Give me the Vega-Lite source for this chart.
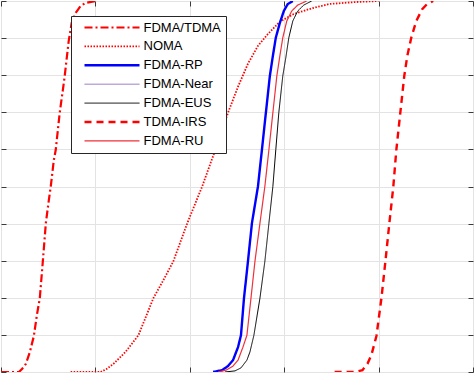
{
  "$schema": "https://vega.github.io/schema/vega-lite/v6.json",
  "width": 474,
  "height": 373,
  "padding": 0,
  "autosize": {"type": "fit", "contains": "padding"},
  "background": "white",
  "config": {
    "view": {"stroke": null},
    "axis": {"labels": false, "domain": false, "title": null, "grid": true, "gridColor": "#e3e3e3", "gridWidth": 1, "ticks": true, "tickColor": "#3a3a3a", "tickSize": -5, "tickWidth": 1},
    "legend": {
      "orient": "none", "legendX": 70, "legendY": 15,
      "strokeColor": "#262626", "fillColor": "white", "strokeWidth": 1,
      "padding": 5, "symbolType": "M-10,0H10", "symbolSize": 30.25,
      "labelFont": "Liberation Sans", "labelFontSize": 13, "labelColor": "#000000",
      "symbolOffset": 29.5, "labelOffset": 25, "rowPadding": 4.9, "title": null
    }
  },
  "data": {"values": [
    {"s":"FDMA-Near","x":2.247,"y":0},{"s":"FDMA-Near","x":2.342,"y":0.005},{"s":"FDMA-Near","x":2.405,"y":0.016},{"s":"FDMA-Near","x":2.458,"y":0.032},{"s":"FDMA-Near","x":2.511,"y":0.067},{"s":"FDMA-Near","x":2.542,"y":0.099},{"s":"FDMA-Near","x":2.574,"y":0.199},{"s":"FDMA-Near","x":2.616,"y":0.298},{"s":"FDMA-Near","x":2.658,"y":0.401},{"s":"FDMA-Near","x":2.722,"y":0.5},{"s":"FDMA-Near","x":2.764,"y":0.599},{"s":"FDMA-Near","x":2.806,"y":0.699},{"s":"FDMA-Near","x":2.848,"y":0.798},{"s":"FDMA-Near","x":2.88,"y":0.852},{"s":"FDMA-Near","x":2.911,"y":0.901},{"s":"FDMA-Near","x":2.954,"y":0.941},{"s":"FDMA-Near","x":2.996,"y":0.973},{"s":"FDMA-Near","x":3.038,"y":0.992},{"s":"FDMA-Near","x":3.091,"y":1},

    {"s":"FDMA/TDMA","x":0,"y":0},{"s":"FDMA/TDMA","x":0.19,"y":0},{"s":"FDMA/TDMA","x":0.222,"y":0.008},{"s":"FDMA/TDMA","x":0.264,"y":0.022},{"s":"FDMA/TDMA","x":0.306,"y":0.054},{"s":"FDMA/TDMA","x":0.348,"y":0.097},{"s":"FDMA/TDMA","x":0.38,"y":0.153},{"s":"FDMA/TDMA","x":0.411,"y":0.199},{"s":"FDMA/TDMA","x":0.443,"y":0.298},{"s":"FDMA/TDMA","x":0.475,"y":0.401},{"s":"FDMA/TDMA","x":0.506,"y":0.462},{"s":"FDMA/TDMA","x":0.527,"y":0.5},{"s":"FDMA/TDMA","x":0.559,"y":0.57},{"s":"FDMA/TDMA","x":0.58,"y":0.599},{"s":"FDMA/TDMA","x":0.622,"y":0.699},{"s":"FDMA/TDMA","x":0.654,"y":0.758},{"s":"FDMA/TDMA","x":0.675,"y":0.798},{"s":"FDMA/TDMA","x":0.717,"y":0.892},{"s":"FDMA/TDMA","x":0.749,"y":0.941},{"s":"FDMA/TDMA","x":0.791,"y":0.968},{"s":"FDMA/TDMA","x":0.844,"y":0.987},{"s":"FDMA/TDMA","x":0.897,"y":0.995},{"s":"FDMA/TDMA","x":1.0,"y":1},

    {"s":"NOMA","x":0.738,"y":0},{"s":"NOMA","x":1.055,"y":0},{"s":"NOMA","x":1.118,"y":0.008},{"s":"NOMA","x":1.192,"y":0.022},{"s":"NOMA","x":1.319,"y":0.054},{"s":"NOMA","x":1.456,"y":0.099},{"s":"NOMA","x":1.614,"y":0.199},{"s":"NOMA","x":1.719,"y":0.247},{"s":"NOMA","x":1.825,"y":0.298},{"s":"NOMA","x":1.973,"y":0.401},{"s":"NOMA","x":2.131,"y":0.5},{"s":"NOMA","x":2.268,"y":0.597},{"s":"NOMA","x":2.405,"y":0.699},{"s":"NOMA","x":2.511,"y":0.769},{"s":"NOMA","x":2.616,"y":0.831},{"s":"NOMA","x":2.722,"y":0.879},{"s":"NOMA","x":2.827,"y":0.911},{"s":"NOMA","x":2.954,"y":0.944},{"s":"NOMA","x":3.101,"y":0.965},{"s":"NOMA","x":3.302,"y":0.981},{"s":"NOMA","x":3.481,"y":0.992},{"s":"NOMA","x":3.745,"y":0.997},{"s":"NOMA","x":3.998,"y":1},

    {"s":"FDMA-RP","x":2.247,"y":0},{"s":"FDMA-RP","x":2.342,"y":0.005},{"s":"FDMA-RP","x":2.405,"y":0.016},{"s":"FDMA-RP","x":2.458,"y":0.032},{"s":"FDMA-RP","x":2.511,"y":0.067},{"s":"FDMA-RP","x":2.542,"y":0.099},{"s":"FDMA-RP","x":2.574,"y":0.199},{"s":"FDMA-RP","x":2.616,"y":0.298},{"s":"FDMA-RP","x":2.658,"y":0.401},{"s":"FDMA-RP","x":2.722,"y":0.5},{"s":"FDMA-RP","x":2.764,"y":0.599},{"s":"FDMA-RP","x":2.806,"y":0.699},{"s":"FDMA-RP","x":2.848,"y":0.798},{"s":"FDMA-RP","x":2.88,"y":0.852},{"s":"FDMA-RP","x":2.911,"y":0.901},{"s":"FDMA-RP","x":2.954,"y":0.941},{"s":"FDMA-RP","x":2.996,"y":0.973},{"s":"FDMA-RP","x":3.038,"y":0.992},{"s":"FDMA-RP","x":3.091,"y":1},

    {"s":"FDMA-EUS","x":2.373,"y":0},{"s":"FDMA-EUS","x":2.479,"y":0.003},{"s":"FDMA-EUS","x":2.542,"y":0.011},{"s":"FDMA-EUS","x":2.605,"y":0.032},{"s":"FDMA-EUS","x":2.637,"y":0.054},{"s":"FDMA-EUS","x":2.679,"y":0.099},{"s":"FDMA-EUS","x":2.743,"y":0.199},{"s":"FDMA-EUS","x":2.795,"y":0.298},{"s":"FDMA-EUS","x":2.838,"y":0.401},{"s":"FDMA-EUS","x":2.88,"y":0.5},{"s":"FDMA-EUS","x":2.911,"y":0.599},{"s":"FDMA-EUS","x":2.943,"y":0.699},{"s":"FDMA-EUS","x":2.985,"y":0.798},{"s":"FDMA-EUS","x":3.017,"y":0.847},{"s":"FDMA-EUS","x":3.049,"y":0.901},{"s":"FDMA-EUS","x":3.091,"y":0.946},{"s":"FDMA-EUS","x":3.143,"y":0.973},{"s":"FDMA-EUS","x":3.207,"y":0.989},{"s":"FDMA-EUS","x":3.291,"y":1},

    {"s":"TDMA-IRS","x":3.534,"y":0},{"s":"TDMA-IRS","x":3.745,"y":0},{"s":"TDMA-IRS","x":3.829,"y":0.005},{"s":"TDMA-IRS","x":3.882,"y":0.022},{"s":"TDMA-IRS","x":3.924,"y":0.046},{"s":"TDMA-IRS","x":3.977,"y":0.097},{"s":"TDMA-IRS","x":4.03,"y":0.199},{"s":"TDMA-IRS","x":4.072,"y":0.298},{"s":"TDMA-IRS","x":4.114,"y":0.401},{"s":"TDMA-IRS","x":4.156,"y":0.5},{"s":"TDMA-IRS","x":4.188,"y":0.599},{"s":"TDMA-IRS","x":4.23,"y":0.699},{"s":"TDMA-IRS","x":4.272,"y":0.798},{"s":"TDMA-IRS","x":4.304,"y":0.852},{"s":"TDMA-IRS","x":4.346,"y":0.901},{"s":"TDMA-IRS","x":4.399,"y":0.946},{"s":"TDMA-IRS","x":4.462,"y":0.978},{"s":"TDMA-IRS","x":4.515,"y":0.992},{"s":"TDMA-IRS","x":4.578,"y":1},

    {"s":"FDMA-RU","x":2.3,"y":0},{"s":"FDMA-RU","x":2.384,"y":0.005},{"s":"FDMA-RU","x":2.458,"y":0.016},{"s":"FDMA-RU","x":2.511,"y":0.032},{"s":"FDMA-RU","x":2.563,"y":0.067},{"s":"FDMA-RU","x":2.605,"y":0.099},{"s":"FDMA-RU","x":2.648,"y":0.199},{"s":"FDMA-RU","x":2.69,"y":0.298},{"s":"FDMA-RU","x":2.743,"y":0.401},{"s":"FDMA-RU","x":2.795,"y":0.5},{"s":"FDMA-RU","x":2.838,"y":0.599},{"s":"FDMA-RU","x":2.88,"y":0.699},{"s":"FDMA-RU","x":2.922,"y":0.798},{"s":"FDMA-RU","x":2.954,"y":0.852},{"s":"FDMA-RU","x":2.985,"y":0.901},{"s":"FDMA-RU","x":3.027,"y":0.946},{"s":"FDMA-RU","x":3.08,"y":0.973},{"s":"FDMA-RU","x":3.143,"y":0.989},{"s":"FDMA-RU","x":3.238,"y":1}
  ]},
  "layer": [
    {
      "mark": {"type": "line", "clip": true},
      "encoding": {
        "x": {"field": "x", "type": "quantitative", "scale": {"domain": [0, 5], "nice": false, "zero": false}, "axis": {"orient": "bottom", "values": [0, 1, 2, 3, 4, 5]}},
        "y": {"field": "y", "type": "quantitative", "scale": {"domain": [0, 1], "nice": false}, "axis": {"orient": "left", "values": [0, 0.1, 0.2, 0.3, 0.4, 0.5, 0.6, 0.7, 0.8, 0.9, 1]}},
        "order": {"field": "x", "type": "quantitative"},
        "color": {"field": "s", "type": "nominal", "scale": {"domain": ["FDMA/TDMA", "NOMA", "FDMA-RP", "FDMA-Near", "FDMA-EUS", "TDMA-IRS", "FDMA-RU"], "range": ["#ff0000", "#ff0000", "#0000ff", "#8e6bbf", "#000000", "#ff0000", "#f0303a"]}},
        "strokeDash": {"field": "s", "type": "nominal", "scale": {"domain": ["FDMA/TDMA", "NOMA", "FDMA-RP", "FDMA-Near", "FDMA-EUS", "TDMA-IRS", "FDMA-RU"], "range": [[8, 3, 2, 3], [1.5, 1.5], [1, 0], [1, 0], [1, 0], [7, 5], [1, 0]]}},
        "strokeWidth": {"field": "s", "type": "nominal", "scale": {"type": "ordinal", "domain": ["FDMA/TDMA", "NOMA", "FDMA-RP", "FDMA-Near", "FDMA-EUS", "TDMA-IRS", "FDMA-RU"], "range": [2.2, 1.8, 2.4, 1, 1, 2.4, 1.2]}}
      }
    },
    {
      "mark": {"type": "line", "opacity": 0},
      "encoding": {
        "x": {"field": "x", "type": "quantitative", "scale": {"domain": [0, 5], "nice": false, "zero": false}, "axis": {"orient": "top", "grid": false, "values": [0, 1, 2, 3, 4, 5]}},
        "y": {"field": "y", "type": "quantitative", "scale": {"domain": [0, 1], "nice": false}, "axis": {"orient": "right", "grid": false, "values": [0, 0.1, 0.2, 0.3, 0.4, 0.5, 0.6, 0.7, 0.8, 0.9, 1]}},
        "detail": {"field": "s"}
      }
    }
  ],
  "resolve": {"axis": {"x": "independent", "y": "independent"}}
}
